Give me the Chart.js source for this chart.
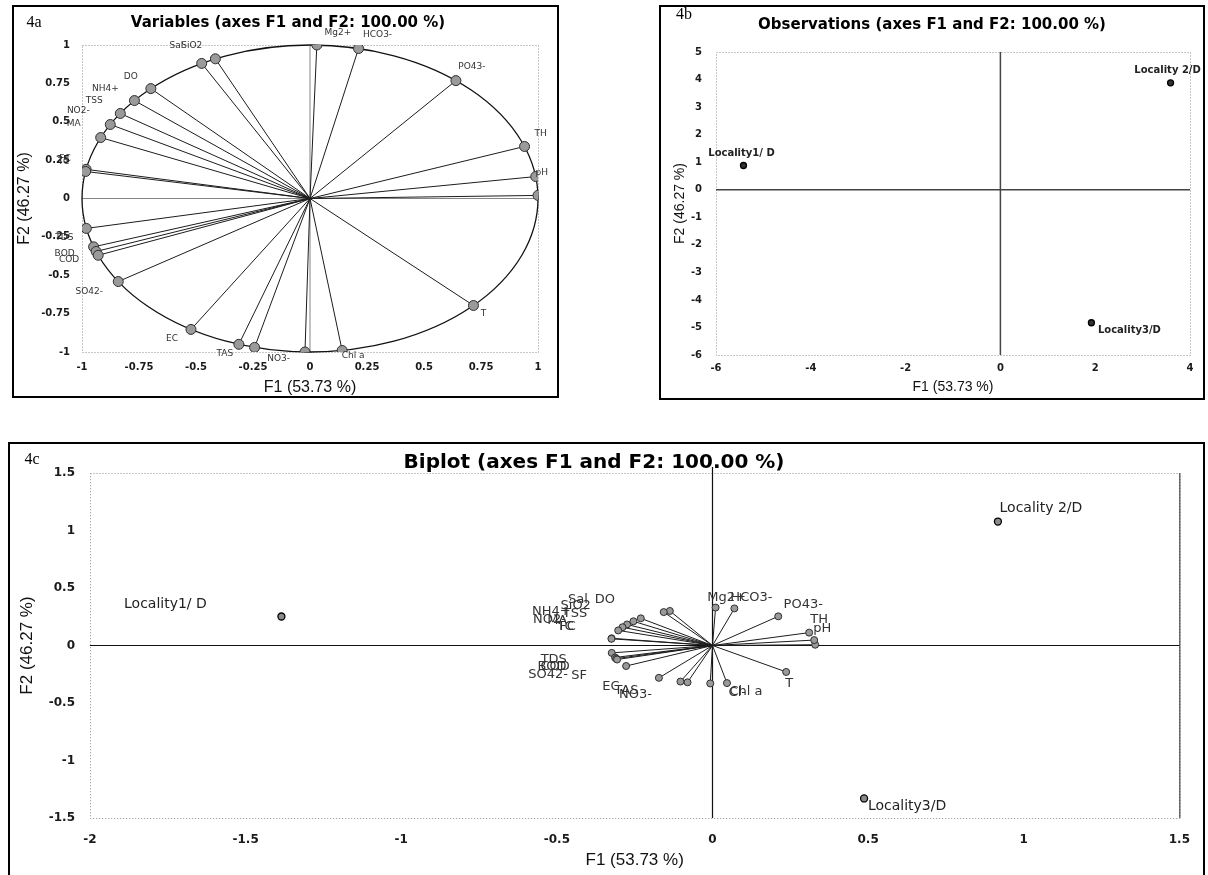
<!DOCTYPE html>
<html>
<head>
<meta charset="utf-8">
<title>PCA - variables, observations, biplot</title>
<script src="https://cdn.jsdelivr.net/npm/chart.js@4.4.1/dist/chart.umd.min.js"></script>
<style>
  body { margin: 0; background: #fff; }
  .panel { position: absolute; }
</style>
</head>
<body>
<div class="panel" style="left:12px;top:5px;width:547px;height:393px"><canvas id="fig4a"></canvas></div>
<div class="panel" style="left:659px;top:5px;width:546px;height:395px"><canvas id="fig4b"></canvas></div>
<div class="panel" style="left:8px;top:442px;width:1197px;height:433px"><canvas id="fig4c"></canvas></div>
<script>
// variables and their loadings on F1 / F2
const variables = ['TC', 'FC', 'MA', 'NO2-', 'TSS', 'NH4+', 'DO', 'SiO2', 'Sal', 'Mg2+', 'HCO3-', 'PO43-', 'TH', 'pH', 'Ca2+',
  'T', 'Chl a', 'Cl-', 'NO3-', 'TAS', 'EC', 'SO42-', 'SF', 'COD', 'BOD', 'TDS'];
const varF1 = [-0.984, -0.982, -0.918, -0.876, -0.832, -0.770, -0.698, -0.475, -0.415, 0.030, 0.213, 0.640, 0.941, 0.990, 1.000,
  0.717, 0.141, -0.022, -0.243, -0.312, -0.522, -0.841, -0.929, -0.938, -0.949, -0.981];
const varF2 = [0.176, 0.190, 0.397, 0.482, 0.554, 0.638, 0.716, 0.880, 0.910, 1.000, 0.977, 0.768, 0.339, 0.143, 0.020,
  -0.697, -0.990, -1.000, -0.970, -0.950, -0.853, -0.541, -0.370, -0.345, -0.315, -0.195];

// observations (fig. 4b)
const localities = ['Locality1/ D', 'Locality 2/D', 'Locality3/D'];
const obsF1 = [-5.42, 3.59, 1.92];
const obsF2 = [0.88, 3.88, -4.83];

// biplot (fig. 4c): observations and the coefficient used on the loadings
const biplotObsF1 = [-1.385, 0.917, 0.487];
const biplotObsF2 = [0.252, 1.078, -1.33];
const biplotCoef = 0.33;

const axisF1 = 'F1 (53.73 %)';
const axisF2 = 'F2 (46.27 %)';

// label offsets in pixels from each point (null = no label shown)
const offA = [[-22,-10],[-21,-11],[-27,-14],[-32,-14],[-26,-13],[-29,-12],[-20,-12],[-10,-18],[-39,-13],[21,-12],[19,-14],
  [16,-14],[16,-13],[6,-4],null,[10,8],[11,5],null,[24,11],[-14,9],[-19,9],[-29,10],null,[-27,8],[-29,7],[-22,9]];
const offC = [[-46,-12],[-44,-12],[-61,-10],[-73,-8],[-52,-11],[-82,-10],[-36,-19],[-88,-6],[-92,-11],[11,-10],[17,-11],
  [25,-12],[10,-13],[8,-11],null,[3,12],[19,9],[27,9],[-52,12],[-54,9],[-48,9],[-78,9],[-38,16],[-61,8],[-63,9],[-58,7]];
const offObsB = [[-2,-12],[-3,-12],[38,8]];
const offObsC = [[-116,-12],[43,-13],[43,8]];

const fmt = v => String(Math.round(v * 100) / 100);

function arrowSets(coef, radius) {
  return variables.map((name, i) => ({
    label: name,
    data: [{x: 0, y: 0}, {x: varF1[i] * coef, y: varF2[i] * coef}],
    showLine: true,
    borderColor: '#1c1c1c',
    borderWidth: 1,
    pointRadius: [0, radius],
    pointBackgroundColor: '#9a9a9a',
    pointBorderColor: '#2e2e2e',
    pointBorderWidth: 1
  }));
}

function obsSet(xs, ys, radius, fill) {
  return {
    label: 'Observations',
    data: localities.map((n, i) => ({x: xs[i], y: ys[i]})),
    showLine: false,
    pointRadius: radius,
    pointBackgroundColor: fill,
    pointBorderColor: '#000',
    pointBorderWidth: 1.3
  };
}

// frame, dotted plot box, zero lines, circle, title, tag and point labels
function decor(p) {
  return {
    id: 'decor',
    beforeDatasetsDraw(chart) {
      const {ctx, chartArea: a, scales: {x, y}} = chart;
      ctx.save();
      ctx.strokeStyle = '#8c8c8c';
      ctx.lineWidth = 1;
      ctx.setLineDash([1, 2]);
      ctx.strokeRect(a.left + 0.5, a.top + 0.5, a.width, a.height);
      ctx.setLineDash([]);
      if (p.solidRight) {
        ctx.strokeStyle = '#222';
        ctx.beginPath();
        ctx.moveTo(a.right + 0.5, a.top); ctx.lineTo(a.right + 0.5, a.bottom);
        ctx.stroke();
      }
      const x0 = x.getPixelForValue(0), y0 = y.getPixelForValue(0);
      ctx.strokeStyle = p.zeroColor;
      ctx.lineWidth = p.zeroWidth;
      ctx.beginPath();
      ctx.moveTo(a.left, y0); ctx.lineTo(a.right, y0);
      ctx.moveTo(x0, a.top - (p.zeroOvershoot || 0)); ctx.lineTo(x0, a.bottom);
      ctx.stroke();
      if (p.circle) {
        ctx.strokeStyle = '#111';
        ctx.lineWidth = 1.3;
        ctx.beginPath();
        ctx.ellipse(x0, y0, x.getPixelForValue(1) - x0, y0 - y.getPixelForValue(1), 0, 0, Math.PI * 2);
        ctx.stroke();
      }
      ctx.restore();
    },
    afterDatasetsDraw(chart) {
      const {ctx, scales: {x, y}} = chart;
      ctx.save();
      ctx.textAlign = 'center';
      ctx.textBaseline = 'middle';
      p.labels.forEach(l => {
        if (!l.off) return;
        ctx.font = l.font;
        ctx.fillStyle = l.color;
        ctx.fillText(l.text, x.getPixelForValue(l.x) + l.off[0], y.getPixelForValue(l.y) + l.off[1]);
      });
      ctx.restore();
    },
    afterDraw(chart) {
      const {ctx, width, height} = chart;
      ctx.save();
      ctx.strokeStyle = '#000';
      ctx.lineWidth = 2;
      ctx.strokeRect(1, 1, width - 2, p.openBottom ? height + 10 : height - 2);
      ctx.fillStyle = '#000';
      ctx.textAlign = 'center';
      ctx.textBaseline = 'middle';
      ctx.font = p.titleFont;
      ctx.fillText(p.title, p.titlePos[0], p.titlePos[1]);
      ctx.font = '16px "Liberation Serif"';
      ctx.fillText(p.tag, p.tagPos[0], p.tagPos[1]);
      ctx.restore();
    }
  };
}

function buildPanel(id, p) {
  const el = document.getElementById(id);
  const W = el.parentNode.clientWidth, H = el.parentNode.clientHeight;
  const lh = p.axisFont.size * 1.2;
  return new Chart(el, {
    type: 'scatter',
    data: {datasets: p.datasets},
    options: {
      responsive: true,
      maintainAspectRatio: false,
      animation: false,
      events: [],
      layout: {padding: {left: 0, top: p.area.top, right: W - p.area.right, bottom: 0}},
      plugins: {legend: {display: false}, tooltip: {enabled: false}, title: {display: false}},
      scales: {
        x: {
          type: 'linear', position: 'bottom', min: p.x.min, max: p.x.max,
          afterFit: s => { s.height = H - p.area.bottom; },
          grid: {display: false, drawTicks: false},
          border: {display: false},
          ticks: {stepSize: p.x.step, callback: fmt, font: p.tickFont, color: '#1a1a1a', padding: p.x.pad, maxRotation: 0, autoSkip: false},
          title: {display: true, text: axisF1, font: p.axisFont, color: '#111', padding: {top: 0, bottom: (H - p.x.titleY) - lh / 2}}
        },
        y: {
          type: 'linear', position: 'left', min: p.y.min, max: p.y.max,
          afterFit: s => { s.width = p.area.left; },
          grid: {display: false, drawTicks: false},
          border: {display: false},
          ticks: {stepSize: p.y.step, callback: fmt, font: p.tickFont, color: '#1a1a1a', padding: p.y.pad, autoSkip: false},
          title: {display: true, text: axisF2, font: p.axisFont, color: '#111', padding: {top: p.y.titleX - lh / 2, bottom: 0}}
        }
      }
    },
    plugins: [decor(p)]
  });
}

// 4a - variables on the correlation circle
buildPanel('fig4a', {
  area: {left: 70, top: 40, right: 526, bottom: 347},
  x: {min: -1, max: 1, step: 0.25, pad: 9, titleY: 383},
  y: {min: -1, max: 1, step: 0.25, pad: 12, titleX: 13},
  tickFont: {family: 'DejaVu Sans', size: 10, weight: 'bold'},
  axisFont: {family: 'Liberation Sans', size: 16},
  title: 'Variables (axes F1 and F2: 100.00 %)',
  titleFont: 'bold 15px "DejaVu Sans"', titlePos: [276, 18],
  tag: '4a', tagPos: [22, 18],
  zeroColor: '#666', zeroWidth: 0.8, circle: true,
  datasets: arrowSets(1, 5),
  labels: variables.map((n, i) => ({x: varF1[i], y: varF2[i], text: n, off: offA[i], font: '9px "DejaVu Sans"', color: '#333'}))
});

// 4b - observations
buildPanel('fig4b', {
  area: {left: 57, top: 47, right: 531, bottom: 350},
  x: {min: -6, max: 4, step: 2, pad: 7, titleY: 382},
  y: {min: -6, max: 5, step: 1, pad: 14, titleX: 21},
  tickFont: {family: 'DejaVu Sans', size: 10, weight: 'bold'},
  axisFont: {family: 'Liberation Sans', size: 14},
  title: 'Observations (axes F1 and F2: 100.00 %)',
  titleFont: 'bold 15px "DejaVu Sans"', titlePos: [273, 20],
  tag: '4b', tagPos: [25, 10],
  zeroColor: '#444', zeroWidth: 1.5, circle: false,
  datasets: [obsSet(obsF1, obsF2, 3, '#333')],
  labels: localities.map((n, i) => ({x: obsF1[i], y: obsF2[i], text: n, off: offObsB[i], font: 'bold 10px "DejaVu Sans"', color: '#222'}))
});

// 4c - biplot
buildPanel('fig4c', {
  area: {left: 82, top: 31, right: 1178, bottom: 376},
  x: {min: -2, max: 1.5, step: 0.5, pad: 15, titleY: 418},
  y: {min: -1.5, max: 1.5, step: 0.5, pad: 15, titleX: 19},
  tickFont: {family: 'DejaVu Sans', size: 12, weight: 'bold'},
  axisFont: {family: 'Liberation Sans', size: 17},
  title: 'Biplot (axes F1 and F2: 100.00 %)',
  titleFont: 'bold 20px "DejaVu Sans"', titlePos: [586, 21],
  tag: '4c', tagPos: [24, 18],
  zeroColor: '#111', zeroWidth: 1.2, zeroOvershoot: 6, circle: false, openBottom: true, solidRight: true,
  datasets: arrowSets(biplotCoef, 3.5).concat([obsSet(biplotObsF1, biplotObsF2, 3.5, '#8a8a8a')]),
  labels: variables.map((n, i) => ({x: varF1[i] * biplotCoef, y: varF2[i] * biplotCoef, text: n, off: offC[i], font: '13px "DejaVu Sans"', color: '#333'}))
    .concat(localities.map((n, i) => ({x: biplotObsF1[i], y: biplotObsF2[i], text: n, off: offObsC[i], font: '14px "DejaVu Sans"', color: '#222'})))
});
</script>
</body>
</html>
